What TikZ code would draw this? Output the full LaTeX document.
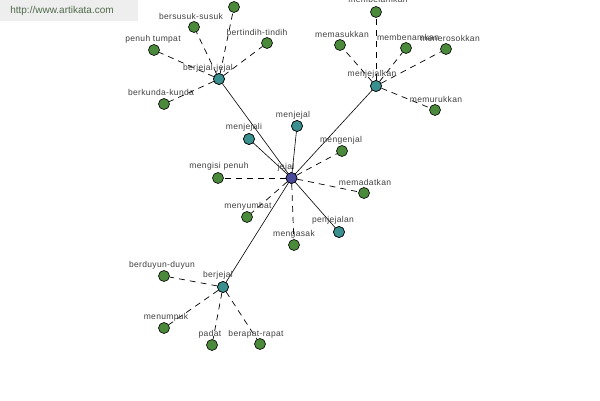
\documentclass[tikz,border=0pt]{standalone}
\usepackage{fontspec}
\setmainfont{Liberation Sans}
\newfontfamily\lblfont[LetterSpace=4]{Liberation Sans}
\definecolor{cCenter}{HTML}{4A4A9A}
\definecolor{cHub}{HTML}{3A8F8F}
\definecolor{cLeaf}{HTML}{4A8A3A}
\definecolor{cText}{HTML}{404040}
\definecolor{cWm}{HTML}{4F6A4A}
\definecolor{cWmBg}{HTML}{EEEEEE}
\begin{document}
\begin{tikzpicture}[x=1pt,y=-1pt,
  dot/.style={circle,draw=black,line width=0.6pt,minimum size=11pt,inner sep=0pt},
  centre/.style={dot,fill=cCenter},
  hub/.style={dot,fill=cHub},
  leaf/.style={dot,fill=cLeaf},
  lbl/.style={font=\lblfont\fontsize{8.5}{9}\selectfont,text=cText,inner sep=0pt},
  solidlink/.style={draw=black,line width=0.6pt},
  dashlink/.style={draw=black,line width=0.7pt,dash pattern=on 6pt off 5pt}]
\useasboundingbox (0,0) rectangle (600,400);
\fill[white] (0,0) rectangle (600,400);
\node[fill=cWmBg,minimum width=138pt,minimum height=21pt,anchor=north west,inner sep=0pt] (wmbox) at (0,0) {};
\node[font=\fontsize{10}{12}\selectfont,text=cWm,inner sep=0pt] (wm) at (62,11) {http://www.artikata.com};

% nodes
\node[centre] (jejal) at (291.5,178) {};
\node[hub] (bjj) at (219,79) {};
\node[hub] (mjk) at (376,86) {};
\node[hub] (bj) at (223,287) {};
\node[hub] (mji) at (249,139) {};
\node[hub] (mj) at (297,126) {};
\node[hub] (pj) at (339,232) {};

\node[leaf] (mengenjal) at (342,151) {};
\node[leaf] (mpenuh) at (218,178) {};
\node[leaf] (memadatkan) at (364,193) {};
\node[leaf] (menyumbat) at (247,217) {};
\node[leaf] (mengasak) at (294,245) {};

\node[leaf] (top) at (234,7) {};
\node[leaf] (bersusuk) at (194,27) {};
\node[leaf] (penuhtumpat) at (154,50) {};
\node[leaf] (bertindih) at (267,43) {};
\node[leaf] (berkunda) at (164,104) {};

\node[leaf] (membelamkan) at (376,12) {};
\node[leaf] (memasukkan) at (340,45) {};
\node[leaf] (membenamkan) at (406,48) {};
\node[leaf] (menerosokkan) at (446,49) {};
\node[leaf] (memurukkan) at (435,110) {};

\node[leaf] (berduyun) at (164,276) {};
\node[leaf] (menumpuk) at (164,328) {};
\node[leaf] (padat) at (212,345) {};
\node[leaf] (berapat) at (260,344) {};

% connectors
\path[solidlink] (jejal) -- (bjj);
\path[solidlink] (jejal) -- (mjk);
\path[solidlink] (jejal) -- (bj);
\path[solidlink] (jejal) -- (mji);
\path[solidlink] (jejal) -- (mj);
\path[solidlink] (jejal) -- (pj);
\foreach \t in {mengenjal,mpenuh,memadatkan,menyumbat,mengasak}
  \path[dashlink] (jejal) -- (\t);
\foreach \t in {top,bersusuk,penuhtumpat,bertindih,berkunda}
  \path[dashlink] (bjj) -- (\t);
\foreach \t in {membelamkan,memasukkan,membenamkan,menerosokkan,memurukkan}
  \path[dashlink] (mjk) -- (\t);
\foreach \t in {berduyun,menumpuk,padat,berapat}
  \path[dashlink] (bj) -- (\t);

% labels
\node[lbl] (l1) at (286,167) {jejal};
\node[lbl] (l2) at (208,68) {berjejal-jejal};
\node[lbl] (l3) at (372,74) {menjejalkan};
\node[lbl] (l4) at (218,275) {berjejal};
\node[lbl] (l5) at (244,127) {menjejali};
\node[lbl] (l6) at (293,115) {menjejal};
\node[lbl] (l7) at (333,220) {penjejalan};
\node[lbl] (l8) at (341,140) {mengenjal};
\node[lbl] (l9) at (219,166) {mengisi penuh};
\node[lbl] (l10) at (365,182) {memadatkan};
\node[lbl] (l11) at (248,206) {menyumbat};
\node[lbl] (l12) at (294,234) {mengasak};
\node[lbl] (l13) at (191,16) {bersusuk-susuk};
\node[lbl] (l14) at (153,39) {penuh tumpat};
\node[lbl] (l15) at (257,32) {bertindih-tindih};
\node[lbl] (l16) at (161,92) {berkunda-kunda};
\node[lbl] (l17) at (378,-1) {membelamkan};
\node[lbl] (l18) at (342,34) {memasukkan};
\node[lbl] (l19) at (408,37) {membenamkan};
\node[lbl] (l20) at (450,38) {menerosokkan};
\node[lbl] (l21) at (436,99) {memurukkan};
\node[lbl] (l22) at (162,265) {berduyun-duyun};
\node[lbl] (l23) at (166,317) {menumpuk};
\node[lbl] (l24) at (210,334) {padat};
\node[lbl] (l25) at (256,334) {berapat-rapat};

% redraw hub dots on top of connectors
\foreach \n/\s in {jejal/centre,bjj/hub,mjk/hub,bj/hub,mji/hub,mj/hub,pj/hub}
  \node[\s] at (\n.center) {};
\end{tikzpicture}
\end{document}
